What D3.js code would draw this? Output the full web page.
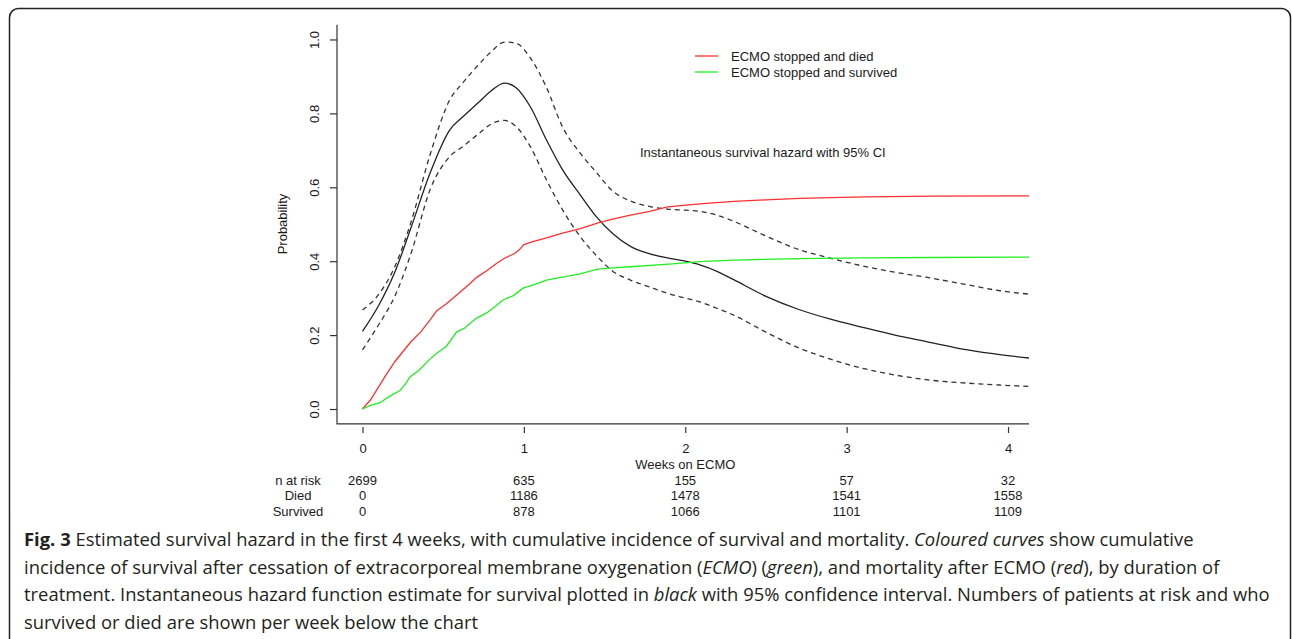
<!DOCTYPE html>
<html>
<head>
<meta charset="utf-8">
<script src="https://d3js.org/d3.v7.min.js"></script>
<style>
    body { margin: 0; background: #fff; }
    .plot text { font-family: "Liberation Sans", Arial, sans-serif; fill: #1a1a1a; }
    .caption { font-family: "Open Sans", sans-serif; fill: #231f20; }
</style>
</head>
<body>
<script>
    // ---- data ----
    var weekTicks = [0, 1, 2, 3, 4];
    var probTicks = [0, 0.2, 0.4, 0.6, 0.8, 1.0];
    var tableRows = ["n at risk", "Died", "Survived"];
    var nAtRisk = [2699, 635, 155, 57, 32];
    var diedCounts = [0, 1186, 1478, 1541, 1558];
    var survivedCounts = [0, 878, 1066, 1101, 1109];

    // instantaneous survival hazard with 95% CI
    var hazardWeeks = [0, 0.1, 0.2, 0.3, 0.42, 0.54, 0.62, 0.72, 0.8, 0.88, 0.95, 1.04, 1.14, 1.24, 1.35, 1.45,
        1.55, 1.66, 1.78, 1.89, 2.0, 2.09, 2.2, 2.3, 2.5, 2.7, 2.9, 3.1, 3.3, 3.5, 3.75, 3.95, 4.13];
    var hazardEst = [0.21, 0.28, 0.37, 0.49, 0.64, 0.755, 0.79, 0.83, 0.862, 0.882, 0.87, 0.818, 0.728, 0.647, 0.579, 0.52,
        0.475, 0.44, 0.42, 0.409, 0.4, 0.39, 0.372, 0.35, 0.305, 0.27, 0.243, 0.221, 0.2, 0.182, 0.16, 0.147, 0.138];
    var hazardUpper = [0.268, 0.31, 0.385, 0.505, 0.69, 0.836, 0.882, 0.932, 0.968, 0.993, 0.99, 0.95, 0.87, 0.763, 0.692, 0.64,
        0.59, 0.563, 0.548, 0.541, 0.538, 0.535, 0.524, 0.508, 0.468, 0.432, 0.408, 0.387, 0.37, 0.356, 0.336, 0.32, 0.311];
    var hazardLower = [0.16, 0.228, 0.305, 0.42, 0.595, 0.683, 0.71, 0.745, 0.772, 0.781, 0.765, 0.71, 0.62, 0.539, 0.466, 0.415,
        0.373, 0.349, 0.33, 0.313, 0.3, 0.29, 0.272, 0.254, 0.208, 0.166, 0.135, 0.11, 0.092, 0.079, 0.07, 0.065, 0.061];

    // cumulative incidence: ECMO stopped and died
    var diedWeeks = [0, 0.05, 0.1, 0.15, 0.2, 0.25, 0.3, 0.36, 0.42, 0.46, 0.52, 0.58, 0.62, 0.66, 0.71, 0.77, 0.83, 0.88,
        0.94, 0.97, 1.0, 1.05, 1.14, 1.24, 1.35, 1.47, 1.55, 1.66, 1.78, 1.89, 2.09, 2.3, 2.5, 2.71, 2.9, 3.12, 3.54, 4.13];
    var diedInc = [0, 0.025, 0.06, 0.095, 0.128, 0.155, 0.182, 0.208, 0.242, 0.266, 0.285, 0.307, 0.322, 0.337, 0.357, 0.374, 0.394, 0.408,
        0.42, 0.43, 0.445, 0.452, 0.463, 0.476, 0.488, 0.505, 0.514, 0.525, 0.535, 0.547, 0.555, 0.562, 0.566, 0.57, 0.572, 0.574, 0.576, 0.577];

    // cumulative incidence: ECMO stopped and survived
    var survWeeks = [0, 0.05, 0.108, 0.17, 0.232, 0.27, 0.294, 0.35, 0.418, 0.46, 0.52, 0.584, 0.63, 0.707, 0.77, 0.83, 0.87,
        0.935, 0.995, 1.06, 1.14, 1.24, 1.35, 1.45, 1.55, 1.66, 1.9, 2.09, 2.3, 2.71, 3.1, 3.54, 4.13];
    var survInc = [0, 0.01, 0.017, 0.035, 0.05, 0.07, 0.087, 0.105, 0.135, 0.151, 0.17, 0.209, 0.218, 0.246, 0.26, 0.28, 0.295,
        0.307, 0.327, 0.336, 0.349, 0.357, 0.366, 0.378, 0.382, 0.385, 0.392, 0.399, 0.403, 0.407, 0.409, 0.41, 0.411];

    var legendLabels = ["ECMO stopped and died", "ECMO stopped and survived"];
    var legendColors = ["#ff3030", "#22ee22"];

    var captionLines = [
        [["Fig. 3", "b"], [" Estimated survival hazard in the first 4 weeks, with cumulative incidence of survival and mortality. ", ""], ["Coloured curves", "i"], [" show cumulative", ""]],
        [["incidence of survival after cessation of extracorporeal membrane oxygenation (", ""], ["ECMO", "i"], [") (", ""], ["green", "i"], ["), and mortality after ECMO (", ""], ["red", "i"], ["), by duration of", ""]],
        [["treatment. Instantaneous hazard function estimate for survival plotted in ", ""], ["black", "i"], [" with 95% confidence interval. Numbers of patients at risk and who", ""]],
        [["survived or died are shown per week below the chart", ""]]
    ];

    // ---- layout ----
    var W = 1292, H = 639;
    var svg = d3.select("body").append("svg").attr("width", W).attr("height", H);

    // rounded frame round the figure
    svg.append("rect")
        .attr("x", 9.5).attr("y", 8.5).attr("width", 1281).attr("height", 700)
        .attr("rx", 9).attr("fill", "none").attr("stroke", "#222").attr("stroke-width", 1.5);

    var x = d3.scaleLinear().domain([-0.158, 4.13]).range([337, 1029]);
    var y = d3.scaleLinear().domain([-0.04, 1.04]).range([423.8, 24.7]);

    var plot = svg.append("g").attr("class", "plot");

    plot.append("clipPath").attr("id", "clip")
        .append("rect").attr("x", 337).attr("y", 24.7).attr("width", 692).attr("height", 399);

    // L-shaped box
    plot.append("path")
        .attr("d", "M337,24.7V423.8H1029")
        .attr("fill", "none").attr("stroke", "#333").attr("stroke-width", 1.2);

    // y axis
    var yAxis = plot.append("g").attr("transform", "translate(337,0)")
        .call(d3.axisLeft(y).tickValues(probTicks).tickSize(7).tickFormat(d3.format(".1f")));
    yAxis.select(".domain").remove();
    yAxis.selectAll("line").attr("stroke", "#333").attr("stroke-width", 1.2);
    yAxis.selectAll("text")
        .attr("x", 0).attr("y", 0).attr("dy", null)
        .attr("text-anchor", "middle")
        .attr("transform", "translate(-18.5,0) rotate(-90)")
        .style("font-size", "13px");

    // x axis (ticks only, sitting just under the box)
    var xAxis = plot.append("g").attr("transform", "translate(0,427)")
        .call(d3.axisBottom(x).tickValues(weekTicks).tickSize(6).tickPadding(10.5).tickFormat(d3.format("d")));
    xAxis.select(".domain").remove();
    xAxis.selectAll("line").attr("stroke", "#333").attr("stroke-width", 1.2);
    xAxis.selectAll("text").style("font-size", "13px");

    plot.append("text")
        .attr("transform", "translate(287,224) rotate(-90)")
        .attr("text-anchor", "middle").style("font-size", "13px")
        .text("Probability");

    plot.append("text")
        .attr("x", x(2)).attr("y", 469)
        .attr("text-anchor", "middle").style("font-size", "13px")
        .text("Weeks on ECMO");

    // numbers at risk table
    var tableValues = [nAtRisk, diedCounts, survivedCounts];
    var rowBase = [484.7, 500.2, 515.7];
    tableRows.forEach(function (name, r) {
        plot.append("text").attr("x", 298).attr("y", rowBase[r])
            .attr("text-anchor", "middle").style("font-size", "13px").text(name);
        plot.selectAll(null).data(tableValues[r]).enter().append("text")
            .attr("x", function (d, i) { return x(weekTicks[i]); })
            .attr("y", rowBase[r])
            .attr("text-anchor", "middle").style("font-size", "13px")
            .text(function (d) { return d; });
    });

    // curves
    function zip(a, b) { return a.map(function (v, i) { return [v, b[i]]; }); }
    var stepLine = d3.line().x(function (d) { return x(d[0]); }).y(function (d) { return y(d[1]); });
    var smoothLine = d3.line().x(function (d) { return x(d[0]); }).y(function (d) { return y(d[1]); })
        .curve(d3.curveMonotoneX);

    var curves = plot.append("g").attr("clip-path", "url(#clip)");

    curves.append("path").attr("d", smoothLine(zip(hazardWeeks, hazardUpper)))
        .attr("fill", "none").attr("stroke", "#333").attr("stroke-width", 1.3).attr("stroke-dasharray", "5,4");
    curves.append("path").attr("d", smoothLine(zip(hazardWeeks, hazardLower)))
        .attr("fill", "none").attr("stroke", "#333").attr("stroke-width", 1.3).attr("stroke-dasharray", "5,4");
    curves.append("path").attr("d", smoothLine(zip(hazardWeeks, hazardEst)))
        .attr("fill", "none").attr("stroke", "#222").attr("stroke-width", 1.3);

    curves.append("path").attr("d", stepLine(zip(diedWeeks, diedInc)))
        .attr("fill", "none").attr("stroke", legendColors[0]).attr("stroke-width", 1.3);
    curves.append("path").attr("d", stepLine(zip(survWeeks, survInc)))
        .attr("fill", "none").attr("stroke", legendColors[1]).attr("stroke-width", 1.3);

    // legend
    legendLabels.forEach(function (lab, i) {
        var ly = 56 + i * 16;
        plot.append("line").attr("x1", 695).attr("x2", 718).attr("y1", ly).attr("y2", ly)
            .attr("stroke", legendColors[i]).attr("stroke-width", 1.3);
        plot.append("text").attr("x", 731).attr("y", ly + 4.7).style("font-size", "13px").text(lab);
    });

    plot.append("text").attr("x", 640).attr("y", 156.5).style("font-size", "13px")
        .text("Instantaneous survival hazard with 95% CI");

    // ---- caption ----
    var capBase = [546, 573.5, 601, 628.5];
    var capTexts = captionLines.map(function (segs, li) {
        var t = svg.append("text").attr("class", "caption").attr("x", 24).attr("y", capBase[li])
            .style("font-size", "18px");
        segs.forEach(function (s) {
            t.append("tspan")
                .style("font-weight", s[1] == "b" ? "bold" : "normal")
                .style("font-style", s[1] == "i" ? "italic" : "normal")
                .text(s[0]);
        });
        return t;
    });
    // size the caption so the third (longest) line ends where it does in the figure
    var len3 = capTexts[2].node().getComputedTextLength();
    var fs = 18 * (1271 - 24) / len3;
    capTexts.forEach(function (t) { t.style("font-size", fs + "px"); });
</script>
</body>
</html>
